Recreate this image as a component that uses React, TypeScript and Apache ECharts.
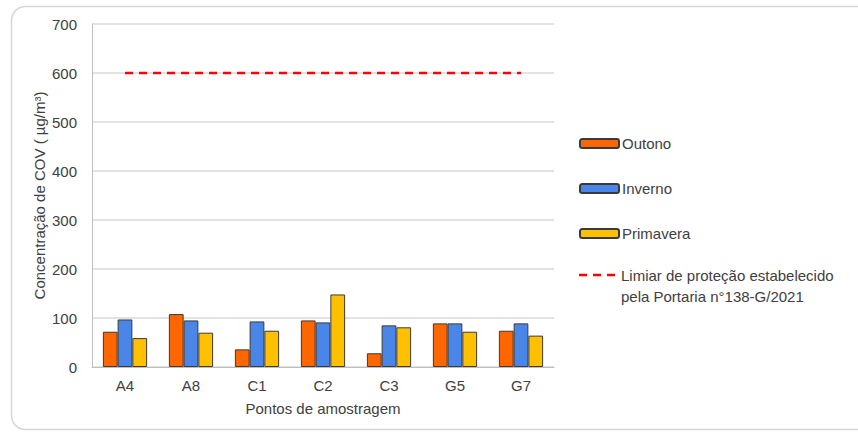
import React, { useEffect, useRef } from "react";
import * as echarts from "echarts";

const categories = ["A4", "A8", "C1", "C2", "C3", "G5", "G7"];
const outono = [72, 108, 36, 95, 28, 89, 74];
const inverno = [97, 95, 93, 91, 85, 89, 89];
const primavera = [59, 70, 74, 148, 81, 72, 64];
const limiar = [600, 600, 600, 600, 600, 600, 600];
const yTicks = { min: 0, max: 700, interval: 100 };

const FONT = "Liberation Sans, Arial, sans-serif";
const TEXT = "#404040";
const LIMIAR_NAME = "Limiar de proteção estabelecido\npela Portaria n°138-G/2021";
const RED = "#ff0000";

export default function App() {
  const ref = useRef<HTMLDivElement>(null);

  useEffect(() => {
    if (!ref.current) return;
    const chart = echarts.init(ref.current, undefined, { renderer: "svg" });
    const barStyle = (color: string) => ({
      color,
      borderColor: "#3a3a3a",
      borderWidth: 1,
    });
    chart.setOption({
      animation: false,
      backgroundColor: "#ffffff",
      textStyle: { fontFamily: FONT },
      graphic: [
        {
          type: "rect",
          shape: { x: 11.5, y: 6.5, width: 860, height: 423, r: 14 },
          style: { fill: "none", stroke: "#d6d6d6", lineWidth: 1.5 },
          silent: true,
          z: -1,
        },
        // legend entry for the threshold line (two-line label, swatch on first line)
        {
          type: "line",
          shape: { x1: 579, y1: 275, x2: 618, y2: 275 },
          style: { stroke: RED, lineWidth: 2.5, lineDash: [8, 6] },
          silent: true,
        },
        {
          type: "text",
          x: 621,
          y: 264.5,
          style: {
            text: LIMIAR_NAME,
            fontFamily: FONT,
            fontSize: 15,
            lineHeight: 21,
            fill: TEXT,
            verticalAlign: "top",
          },
          silent: true,
        },
      ],
      grid: { left: 92, right: 304, top: 24, bottom: 65 },
      legend: {
        orient: "vertical",
        left: 579,
        top: 136,
        padding: 0,
        itemWidth: 39,
        itemHeight: 9,
        itemGap: 30,
        data: ["Outono", "Inverno", "Primavera"],
        textStyle: { fontFamily: FONT, fontSize: 15, color: TEXT, padding: [0, 0, 0, -2] },
      },
      xAxis: {
        type: "category",
        data: categories,
        name: "Pontos de amostragem",
        nameLocation: "middle",
        nameGap: 34,
        nameMoveOverlap: false,
        nameTextStyle: { fontFamily: FONT, fontSize: 15, color: TEXT },
        axisLine: { show: true, lineStyle: { color: "#bfbfbf", width: 1 } },
        axisTick: { show: false },
        axisLabel: { fontFamily: FONT, fontSize: 15, color: TEXT, margin: 11 },
      },
      yAxis: {
        type: "value",
        min: yTicks.min,
        max: yTicks.max,
        interval: yTicks.interval,
        name: "Concentração de COV ( µg/m³)",
        nameLocation: "middle",
        nameGap: 45,
        nameMoveOverlap: false,
        nameRotate: 90,
        nameTextStyle: { fontFamily: FONT, fontSize: 15, color: TEXT },
        axisLine: { show: true, lineStyle: { color: "#bfbfbf", width: 1 } },
        axisTick: { show: false },
        axisLabel: { fontFamily: FONT, fontSize: 15, color: TEXT, margin: 15 },
        splitLine: { lineStyle: { color: "#d9d9d9", width: 1.5 } },
      },
      series: [
        {
          name: "Outono",
          type: "bar",
          data: outono,
          barGap: "0%",
          barCategoryGap: "33%",
          itemStyle: barStyle("#ff6600"),
        },
        {
          name: "Inverno",
          type: "bar",
          data: inverno,
          itemStyle: barStyle("#4a86e8"),
        },
        {
          name: "Primavera",
          type: "bar",
          data: primavera,
          itemStyle: barStyle("#ffc000"),
        },
        {
          name: "Limiar de proteção estabelecido pela Portaria n°138-G/2021",
          type: "line",
          data: limiar,
          symbol: "none",
          lineStyle: { color: RED, width: 2.5, type: [8, 6] },
          itemStyle: { color: RED },
          z: 5,
        },
      ],
    });
    return () => chart.dispose();
  }, []);

  return (
    <div
      ref={ref}
      style={{ position: "absolute", left: 0, top: 0, width: 858, height: 432 }}
    />
  );
}
